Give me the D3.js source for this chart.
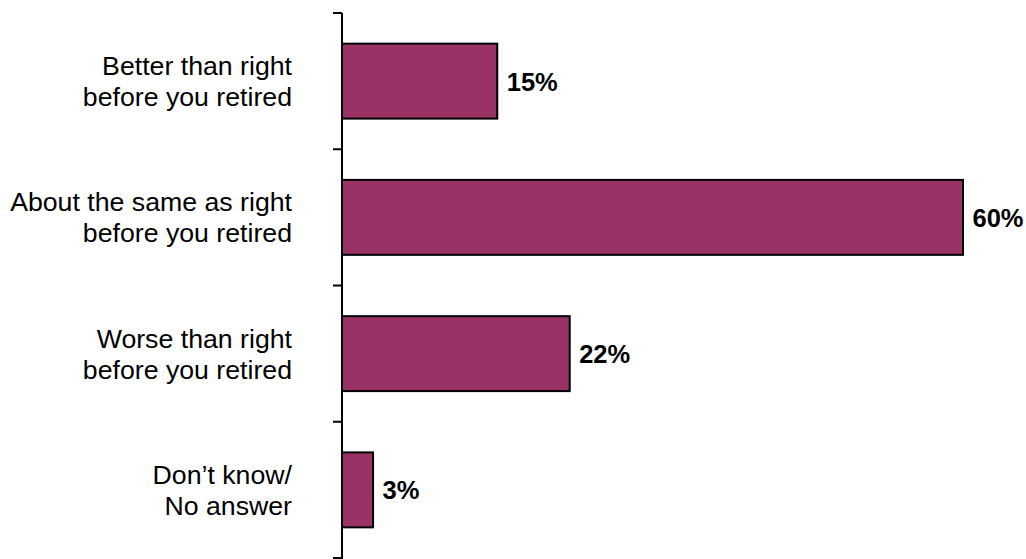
<!DOCTYPE html>
<html><head><meta charset="utf-8">
<script src="https://cdn.jsdelivr.net/npm/d3@7"></script>
<style>html,body{margin:0;padding:0;background:#fff;}svg{display:block;}</style>
</head><body>
<script>
const categories = [
  ["Better than right", "before you retired"],
  ["About the same as right", "before you retired"],
  ["Worse than right", "before you retired"],
  ["Don\u2019t know/", "No answer"]
];
const values = [15, 60, 22, 3];
const valueLabels = ["15%", "60%", "22%", "3%"];

const W = 1026, H = 559;
const svg = d3.select("body").append("svg").attr("width", W).attr("height", H);

const axisX = 342;
const y = d3.scaleBand().domain(d3.range(categories.length)).range([13, 558]).paddingInner(0.45).paddingOuter(0.225);
const x = d3.scaleLinear().domain([0, 60]).range([axisX, 963]);

// bars
svg.selectAll("rect.bar").data(values).enter().append("rect")
  .attr("x", x(0)).attr("y", (d, i) => y(i))
  .attr("width", d => x(d) - x(0)).attr("height", y.bandwidth())
  .attr("fill", "#993366").attr("stroke", "#000").attr("stroke-width", 2);

// axis line and ticks (category boundaries)
const step = y.step();
const g = svg.append("g");
g.append("line").attr("x1", axisX).attr("x2", axisX).attr("y1", 13).attr("y2", 559)
  .attr("stroke", "#000").attr("stroke-width", 2);
d3.range(categories.length + 1).forEach(i => {
  const ty = 13 + i * step;
  g.append("line").attr("x1", axisX - 9).attr("x2", axisX).attr("y1", ty).attr("y2", ty)
    .attr("stroke", "#000").attr("stroke-width", 2);
});

// category labels
const fs = 26.7, lh = 31;
categories.forEach((lines, i) => {
  const cy = y(i) + y.bandwidth() / 2;
  const t = svg.append("text").attr("text-anchor", "end")
    .attr("font-family", "Liberation Sans, Arial, sans-serif").attr("font-size", fs).attr("fill", "#000");
  lines.forEach((s, j) => {
    t.append("tspan").attr("x", 292)
      .attr("y", cy + 9.5 + (j - (lines.length - 1) / 2) * lh).text(s);
  });
});

// value labels
svg.selectAll("text.val").data(values).enter().append("text")
  .attr("x", d => x(d) + 9.5).attr("y", (d, i) => y(i) + y.bandwidth() / 2 + 9.5)
  .attr("font-family", "Liberation Sans, Arial, sans-serif").attr("font-size", 25.5)
  .attr("font-weight", "bold").attr("fill", "#000")
  .text((d, i) => valueLabels[i]);
</script>
</body></html>
